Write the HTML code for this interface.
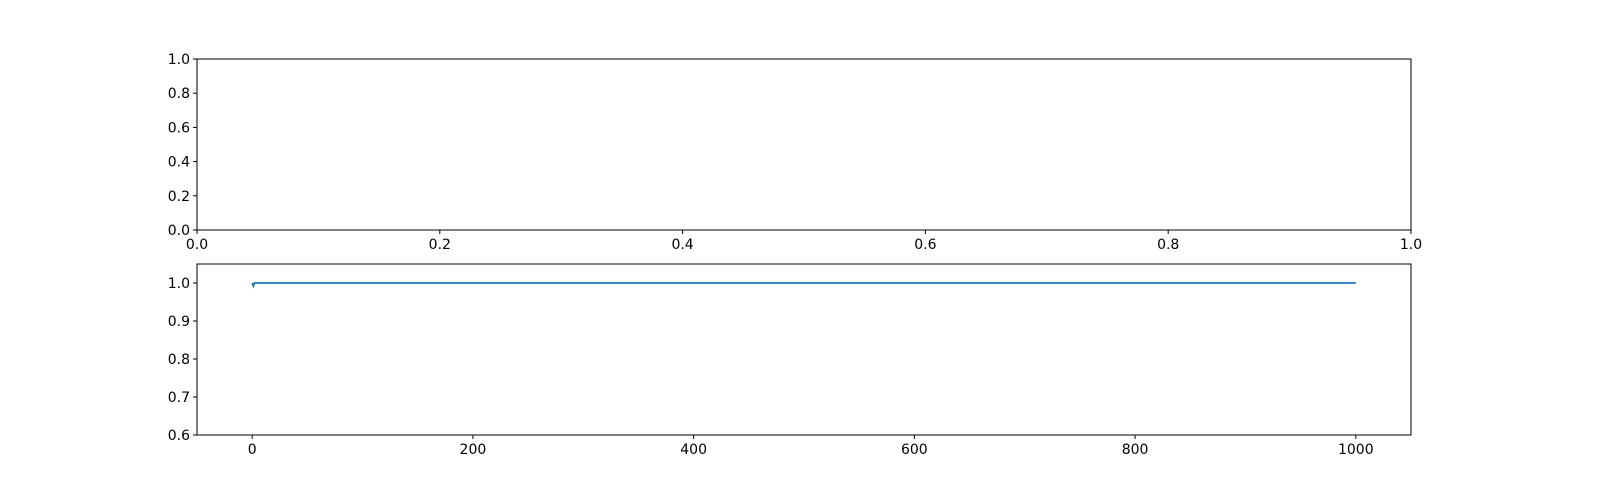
<!DOCTYPE html>
<html><head><meta charset="utf-8"><style>
body{margin:0;background:#fff;}
svg{display:block;font-family:"DejaVu Sans","Liberation Sans",sans-serif;}
</style></head><body>
<svg id="chart" width="1604" height="500" xmlns="http://www.w3.org/2000/svg"></svg>
<script>
const topXTicks=[0,0.2,0.4,0.6,0.8,1.0];
const topYTicks=[0,0.2,0.4,0.6,0.8,1.0];
const lineX=[0,1,2,1000];
const lineY=[1.0,0.992,1.0,1.0];
const botXTicks=[0,200,400,600,800,1000];
const botYTicks=[0.6,0.7,0.8,0.9,1.0];
const svg=document.getElementById('chart');
const NS='http://www.w3.org/2000/svg';
function mk(t,a,p){const e=document.createElementNS(NS,t);for(const k in a)e.setAttribute(k,a[k]);(p||svg).appendChild(e);return e;}
const L=197,R=1411;
function axes(top,bot,xmin,xmax,ymin,ymax,xt,yt,fmtX,fmtY,name){
  const g=mk('g',{});
  
  
  const sx=v=>L+(v-xmin)/(xmax-xmin)*(R-L);
  const sy=v=>bot-(v-ymin)/(ymax-ymin)*(bot-top);
  const fr=mk('rect',{x:L,y:top,width:R-L,height:bot-top,fill:'none',stroke:'#000','stroke-width':1},g);
  
  
  xt.forEach(v=>{const x=sx(v);
    mk('line',{x1:x,x2:x,y1:bot,y2:bot+4,stroke:'#000'},g);
    const t=mk('text',{x:x,y:bot+19,'font-size':14,'text-anchor':'middle'},g);
    t.textContent=fmtX(v);
    
    });
  yt.forEach(v=>{const y=sy(v);
    mk('line',{x1:L-4,x2:L,y1:y,y2:y,stroke:'#000'},g);
    const t=mk('text',{x:L-7,y:y+5,'font-size':14,'text-anchor':'end'},g);
    t.textContent=fmtY(v);
    
    });
  return {sx,sy,g};
}
axes(59,230,0,1,0,1,topXTicks,topYTicks,v=>v.toFixed(1),v=>v.toFixed(1),'top-axes');
const b=axes(264,435,-50,1050,0.6,1.05,botXTicks,botYTicks,v=>String(v),v=>v.toFixed(1),'bottom-axes');
const pts=lineX.map((x,i)=>b.sx(x)+','+b.sy(lineY[i])).join(' ');
const pl=mk('polyline',{points:pts,fill:'none',stroke:'#1f77b4','stroke-width':1.8},b.g);


</script>
</body></html>
